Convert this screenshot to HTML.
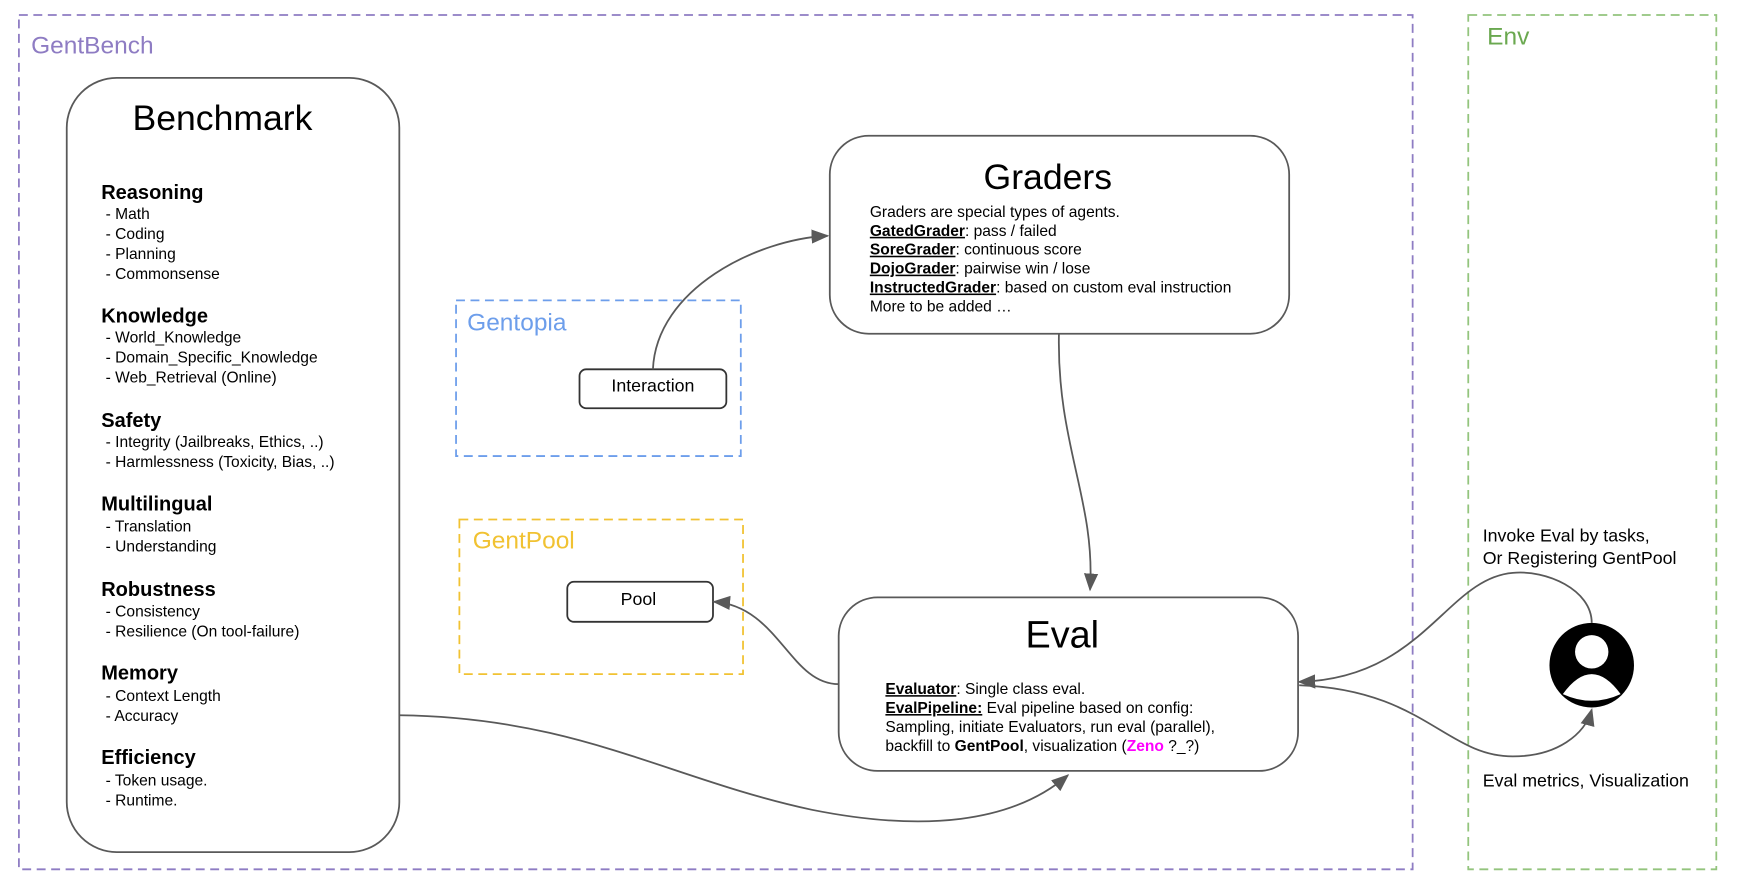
<!DOCTYPE html>
<html><head><meta charset="utf-8"><style>
html,body{margin:0;padding:0;background:#fff}
svg{display:block}
text{font-family:"Liberation Sans",sans-serif;fill:#000}
</style></head><body>
<svg width="1743" height="881" viewBox="0 0 1567 792" preserveAspectRatio="none" xmlns="http://www.w3.org/2000/svg">
<defs>
<marker id="b" viewBox="0 0 10 10" refX="9" refY="5" markerWidth="16" markerHeight="16" orient="auto" markerUnits="userSpaceOnUse"><path d="M0,1 L10,5 L0,9 z" fill="#595959"/></marker>
</defs>
<rect x="17" y="13.5" width="1253" height="768" fill="none" stroke="#8e7cc3" stroke-width="1.6" stroke-dasharray="8,5"/>
<text x="28" y="48" font-size="22" style="fill:#8e7cc3">GentBench</text>
<rect x="1320" y="13.5" width="223" height="768" fill="none" stroke="#93c47d" stroke-width="1.6" stroke-dasharray="8,5"/>
<text x="1337" y="40" font-size="22" style="fill:#6aa84f">Env</text>

<rect x="60" y="70" width="299" height="696" rx="45" fill="#fff" stroke="#595959" stroke-width="1.6"/>
<text x="200" y="117" font-size="32" text-anchor="middle">Benchmark</text>
<g font-size="14">
<text x="91" y="179" font-size="18" font-weight="bold">Reasoning</text>
<text x="95" y="197">- Math</text><text x="95" y="215">- Coding</text><text x="95" y="233">- Planning</text><text x="95" y="251">- Commonsense</text>
<text x="91" y="290" font-size="18" font-weight="bold">Knowledge</text>
<text x="95" y="308">- World_Knowledge</text><text x="95" y="326">- Domain_Specific_Knowledge</text><text x="95" y="344">- Web_Retrieval (Online)</text>
<text x="91" y="384" font-size="18" font-weight="bold">Safety</text>
<text x="95" y="402">- Integrity (Jailbreaks, Ethics, ..)</text><text x="95" y="420">- Harmlessness (Toxicity, Bias, ..)</text>
<text x="91" y="459" font-size="18" font-weight="bold">Multilingual</text>
<text x="95" y="478">- Translation</text><text x="95" y="496">- Understanding</text>
<text x="91" y="536" font-size="18" font-weight="bold">Robustness</text>
<text x="95" y="554">- Consistency</text><text x="95" y="572">- Resilience (On tool-failure)</text>
<text x="91" y="611" font-size="18" font-weight="bold">Memory</text>
<text x="95" y="630">- Context Length</text><text x="95" y="648">- Accuracy</text>
<text x="91" y="687" font-size="18" font-weight="bold">Efficiency</text>
<text x="95" y="706">- Token usage.</text><text x="95" y="724">- Runtime.</text>
</g>

<rect x="410" y="270" width="256" height="140" fill="none" stroke="#6d9eeb" stroke-width="1.6" stroke-dasharray="8,5"/>
<text x="420" y="297" font-size="22" style="fill:#6d9eeb">Gentopia</text>
<rect x="521" y="332" width="132" height="35" rx="6" fill="#fff" stroke="#333" stroke-width="1.6"/>
<text x="587" y="352" font-size="16" text-anchor="middle">Interaction</text>

<rect x="413" y="467" width="255" height="139" fill="none" stroke="#f1c232" stroke-width="1.6" stroke-dasharray="8,5"/>
<text x="425" y="493" font-size="22" style="fill:#f1c232">GentPool</text>
<rect x="510" y="523" width="131" height="36" rx="6" fill="#fff" stroke="#333" stroke-width="1.6"/>
<text x="574" y="544" font-size="16" text-anchor="middle">Pool</text>

<rect x="746" y="122" width="413" height="178" rx="35" fill="#fff" stroke="#595959" stroke-width="1.6"/>
<text x="942" y="170" font-size="32" text-anchor="middle">Graders</text>
<g font-size="14">
<text x="782" y="195">Graders are special types of agents.</text>
<text x="782" y="212"><tspan font-weight="bold" text-decoration="underline">GatedGrader</tspan>: pass / failed</text>
<text x="782" y="229"><tspan font-weight="bold" text-decoration="underline">SoreGrader</tspan>: continuous score</text>
<text x="782" y="246"><tspan font-weight="bold" text-decoration="underline">DojoGrader</tspan>: pairwise win / lose</text>
<text x="782" y="263"><tspan font-weight="bold" text-decoration="underline">InstructedGrader</tspan>: based on custom eval instruction</text>
<text x="782" y="280">More to be added …</text>
</g>

<rect x="754" y="537" width="413" height="156" rx="35" fill="#fff" stroke="#595959" stroke-width="1.6"/>
<text x="955" y="582" font-size="34" text-anchor="middle">Eval</text>
<g font-size="14">
<text x="796" y="624"><tspan font-weight="bold" text-decoration="underline">Evaluator</tspan>: Single class eval.</text>
<text x="796" y="641"><tspan font-weight="bold" text-decoration="underline">EvalPipeline:</tspan> Eval pipeline based on config:</text>
<text x="796" y="658">Sampling, initiate Evaluators, run eval (parallel),</text>
<text x="796" y="675">backfill to <tspan font-weight="bold">GentPool</tspan>, visualization (<tspan font-weight="bold" style="fill:#ff00ff">Zeno</tspan> ?_?)</text>
</g>

<circle cx="1431" cy="598" r="38" fill="#000"/>
<circle cx="1431" cy="586" r="15" fill="#fff"/>
<path d="M1405,624 Q1431,588 1457,624 Q1431,636 1405,624 z" fill="#fff"/>

<g fill="none" stroke="#595959" stroke-width="1.6">
<path d="M587,332 C590,260 680,215 744,212" marker-end="url(#b)"/>
<path d="M952,300 C950,400 985,450 980,530" marker-end="url(#b)"/>
<path d="M754,615 C710,615 700,545 642,541" marker-end="url(#b)"/>
<path d="M359,643 C520,645 600,700 730,728 C830,748 910,740 960,697" marker-end="url(#b)"/>
<path d="M1431,560 C1431,530 1390,512 1360,515 C1300,520 1280,610 1168,613" marker-end="url(#b)"/>
<path d="M1168,616 C1280,620 1300,680 1360,680 C1400,680 1425,660 1431,638" marker-end="url(#b)"/>
</g>
<text x="1333" y="487" font-size="16">Invoke Eval by tasks,</text>
<text x="1333" y="507" font-size="16">Or Registering GentPool</text>
<text x="1333" y="707" font-size="16">Eval metrics, Visualization</text>
</svg>
</body></html>
